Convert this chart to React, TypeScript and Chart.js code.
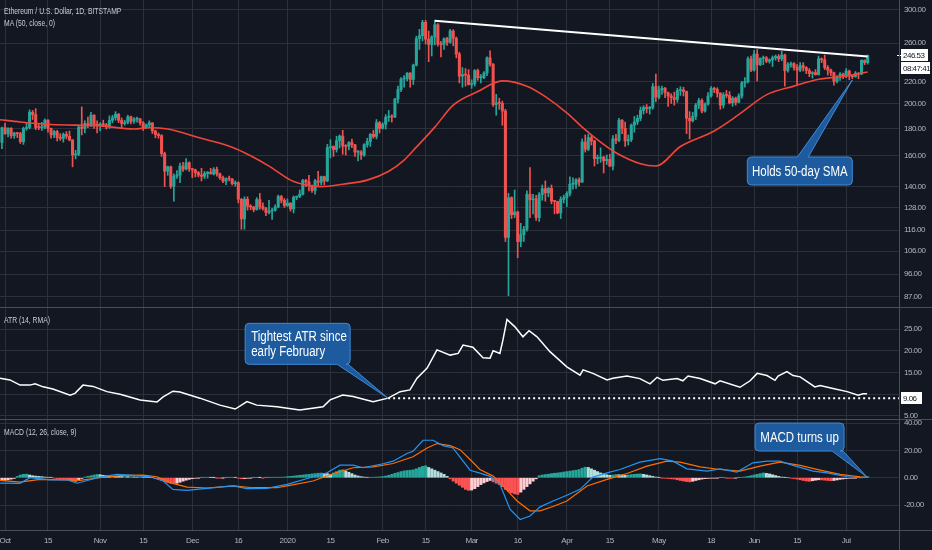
import React, { useEffect, useRef } from 'react';
import { Chart, registerables } from 'chart.js';

Chart.register(...registerables);

// ---------------- DATA ----------------
// Daily ETH/USD candles [open, high, low, close]; first row is 30 Sep 2019 (day -1; day 0 = 1 Oct 2019)
const candlesSep2019 = [[169.5, 181, 165, 180.5]];
const candlesOct2019 = [
  [180.5, 184, 175.5, 175.8], [175.8, 180.4, 173.5, 180.2], [180.2, 180.5, 172.5, 174.5], [174.5, 177, 172.5, 176.4],
  [176.4, 177, 173, 176], [176, 177, 168.7, 170], [170, 181, 168, 179.8], [179.8, 184, 178.5, 180.7],
  [180.7, 195, 179.5, 193], [193, 194.5, 187, 191], [191, 196, 179, 180.7], [180.7, 183, 179, 180.6],
  [180.6, 184.8, 178.5, 180.9], [180.9, 187.5, 179.8, 186.5], [186.5, 187, 177, 180], [180, 180.3, 172.5, 175],
  [175, 178.5, 173, 177.5], [177.5, 178.5, 170.5, 173], [173, 176, 171, 172.4], [172.4, 176.5, 169.6, 175.5],
  [175.5, 177.5, 172, 174], [174, 178, 170.5, 171.3], [171.3, 171.5, 152.5, 160.5], [160.5, 163.8, 157.8, 161],
  [161, 182, 160, 181], [181, 197.5, 175, 180], [180, 186, 176.5, 183.8], [183.8, 189, 180.5, 182.5],
  [182.5, 193, 181.3, 190.5], [190.5, 191, 180, 183], [183, 186, 176.5, 182.5],
];
const candlesNov2019 = [
  [182.5, 184.5, 178, 183.5], [183.5, 186.5, 181.8, 182.8], [182.8, 184, 179.5, 181.3], [181.3, 190, 180, 186.4],
  [186.4, 190.5, 184.5, 188.5], [188.5, 193.5, 186.5, 191.3], [191.3, 192, 184.5, 186.4], [186.4, 188.3, 180, 183.8],
  [183.8, 186.5, 182.5, 184.8], [184.8, 190.5, 183.5, 189.3], [189.3, 189.8, 183.5, 185.6], [185.6, 188.5, 184, 187.3],
  [187.3, 189, 184.8, 187.5], [187.5, 188, 182.5, 184.5], [184.5, 185.3, 178.5, 180.5], [180.5, 183.5, 180, 182.7],
  [182.7, 186, 181.3, 184.3], [184.3, 184.5, 176, 178], [178, 178.5, 172.8, 175.3], [175.3, 176.5, 172.5, 174.5],
  [174.5, 175.2, 159.5, 161.5], [161.5, 162.5, 140, 149.7], [149.7, 153, 147, 152.5], [152.5, 153, 139, 140.2],
  [140.2, 148, 131.5, 146.5], [146.5, 150, 145, 147.2], [147.2, 155, 142.5, 153], [153, 155.5, 149.5, 151],
  [151, 158, 150.5, 155.2], [155.2, 155.8, 149.5, 151.3],
];
const candlesDec2019 = [
  [151.3, 151.5, 145.5, 150.5], [150.5, 151, 146, 148.7], [148.7, 149.5, 146, 147.2], [147.2, 151.5, 143.5, 146.4],
  [146.4, 149.5, 145, 148.2], [148.2, 149.5, 145.2, 149], [149, 151.5, 148, 147.8], [147.8, 152, 147.2, 150.8],
  [150.8, 152.3, 146.5, 148], [148, 148.5, 144.5, 145.5], [145.5, 146.5, 142.5, 143.4], [143.4, 145.5, 141.2, 144.8],
  [144.8, 146.6, 143.5, 144.7], [144.7, 145, 141, 141.8], [141.8, 143.5, 140.3, 142.4], [142.4, 143, 130.5, 132.6],
  [132.6, 133, 116.5, 121.8], [121.8, 134, 116.5, 132.6], [132.6, 134, 126.5, 128.7], [128.7, 129.5, 126.7, 128.3],
  [128.3, 128.6, 125.6, 126.8], [126.8, 133.5, 126.5, 132.4], [132.4, 136, 127, 128.5], [128.5, 130.5, 126.5, 127.4],
  [127.4, 128, 123.5, 125.2], [125.2, 132, 124.5, 126], [126, 127.5, 121.5, 126.4], [126.4, 129.5, 126, 128.2],
  [128.2, 135, 127.8, 134.2], [134.2, 134.8, 130.5, 132], [132, 133, 128, 129],
];
const candlesJan2020 = [
  [129, 132.8, 128.5, 130.4], [130.4, 130.6, 126, 127.2], [127.2, 134.5, 125, 133.7], [133.7, 134.5, 132.3, 134.2],
  [134.2, 138, 133.5, 135.5], [135.5, 144.5, 135, 143.8], [143.8, 144.5, 140, 142.9], [142.9, 147, 137.5, 140.8],
  [140.8, 141, 136.5, 137.7], [137.7, 144.5, 135.5, 143.6], [143.6, 149.5, 140.5, 142.6], [142.6, 146.5, 141, 146.2],
  [146.2, 146.5, 141, 143.5], [143.5, 168, 143, 165.7], [165.7, 171.5, 158.5, 166.4], [166.4, 167, 159.5, 164.3],
  [164.3, 174, 162.5, 170.8], [170.8, 175, 165.5, 174.1], [174.1, 178.5, 161, 166.8], [166.8, 167.8, 160.5, 166.6],
  [166.6, 170, 164, 169.3], [169.3, 171.8, 165.7, 167.7], [167.7, 168, 159.5, 162.5], [162.5, 163.5, 156.5, 162.6],
  [162.6, 163.5, 157.5, 160.5], [160.5, 168.5, 159.5, 167.8], [167.8, 172.5, 166, 170.2], [170.2, 176, 166.5, 175.5],
  [175.5, 178.5, 172.5, 173.8], [173.8, 187, 172, 184.5], [184.5, 185.5, 176.5, 180],
];
const candlesFeb2020 = [
  [180, 184.5, 179.5, 183.2], [183.2, 191, 179.5, 188.8], [188.8, 194.5, 185.5, 189.3], [189.3, 191, 185, 189],
  [189, 205, 188.5, 204.3], [204.3, 216, 201, 212.8], [212.8, 224, 211, 222.7], [222.7, 226, 215, 223.2],
  [223.2, 229, 221, 228.5], [228.5, 229, 215, 222.3], [222.3, 237.5, 217.5, 236.5], [236.5, 268, 235.5, 265.2],
  [265.2, 276, 253, 268.5], [268.5, 287, 262.5, 284.5], [284.5, 287, 259, 264.5], [264.5, 274, 240, 258.5],
  [258.5, 268.5, 246, 267], [267, 287, 258, 281.5], [281.5, 283, 256.5, 259], [259, 262, 245, 258.5],
  [258.5, 266, 253, 265], [265, 266.5, 257.5, 261], [261, 276, 260, 274], [274, 275.5, 257, 265.5],
  [265.5, 267, 244, 248], [248, 250, 219, 225.5], [225.5, 234, 215, 227], [227, 233, 216, 226.5],
  [226.5, 232, 217, 217.5],
];
const candlesMar2020 = [
  [217.5, 222, 214, 218.5], [218.5, 232, 216, 231], [231, 232.5, 221.5, 224], [224, 227, 219, 224],
  [224, 230, 223, 228.5], [228.5, 245, 226, 244], [244, 251.5, 235.5, 237.5], [237.5, 238, 198, 199.5],
  [199.5, 208.5, 190.5, 201], [201, 205, 195.5, 200.5], [200.5, 202.5, 182.5, 194], [194, 195.5, 110.5, 112.5],
  [112.5, 136, 87.5, 133.5], [133.5, 134, 122, 124], [124, 138, 122.5, 125.5], [125.5, 126, 103, 110.5],
  [110.5, 119.5, 108, 113.8], [113.8, 118, 110.5, 116.5], [116.5, 137.5, 115.5, 135.5], [135.5, 152, 122.5, 132.3],
  [132.3, 135.5, 124.5, 132.8], [132.8, 134.8, 121, 122.5], [122.5, 136.5, 120.5, 135.3], [135.3, 141, 132, 138.8],
  [138.8, 143.5, 131.5, 136.3], [136.3, 139.5, 134, 139], [139, 141, 130, 131.5], [131.5, 132, 124.5, 131.3],
  [131.3, 131.5, 124.5, 125], [125, 134, 122, 132.5], [132.5, 135, 130.5, 133.5],
];
const candlesApr2020 = [
  [133.5, 137, 128.5, 136], [136, 146, 134.5, 141.5], [141.5, 145.5, 138.5, 141.5], [141.5, 145, 139, 144.2],
  [144.2, 145.5, 140.5, 142.8], [142.8, 172, 142.5, 169.8], [169.8, 175, 162.5, 164.5], [164.5, 175.5, 163.5, 173],
  [173, 174.5, 167.5, 170.5], [170.5, 171, 153, 158], [158, 160.5, 154.5, 158.3], [158.3, 165.5, 155.5, 159],
  [159, 159.5, 148.5, 156.5], [156.5, 160.5, 154, 157.5], [157.5, 161, 152.5, 153], [153, 174.5, 150.5, 172],
  [172, 175.5, 168.5, 171], [171, 188, 170, 186.5], [186.5, 187, 176, 180], [180, 185, 166.5, 170.5],
  [170.5, 175, 167.5, 171.5], [171.5, 183.5, 170, 182.5], [182.5, 189.5, 177, 185], [185, 190.5, 183, 188],
  [188, 197.5, 186, 194.5], [194.5, 198.5, 191.5, 197], [197, 199.5, 192.5, 196], [196, 198, 191.5, 197],
  [197, 218.5, 195.5, 215.5], [215.5, 227.5, 202, 206],
];
const candlesMay2020 = [
  [206, 216, 204.5, 212.5], [212.5, 216, 208.5, 214], [214, 215, 205.5, 210], [210, 210.5, 198, 207],
  [207, 209, 200.5, 205.5], [205.5, 210.5, 199, 204], [204, 214, 201.5, 212], [212, 215.5, 207.5, 212.5],
  [212.5, 215, 207, 211], [211, 211.5, 176, 188], [188, 193.5, 172, 186], [186, 193, 185, 189.5],
  [189.5, 200.5, 187, 199], [199, 205, 196, 203], [203, 204.5, 192.5, 194], [194, 201, 193, 200],
  [200, 210, 199, 207], [207, 215.5, 206, 214], [214, 215, 210, 213], [213, 214.5, 206, 209.5],
  [209.5, 210, 195.5, 199], [199, 210, 196.5, 208], [208, 212, 205.5, 207.5], [207.5, 211, 200, 201],
  [201, 206.5, 198, 205], [205, 206, 199, 201.5], [201.5, 209, 201, 207], [207, 220.5, 205, 219],
  [219, 224, 215, 220], [220, 245, 219, 243], [243, 246, 230, 231.5],
];
const candlesJun2020 = [
  [231.5, 252, 230.5, 248], [248, 253, 221, 237], [237, 244, 236, 243.5], [243.5, 246, 237, 244],
  [244, 245.5, 239, 240.5], [240.5, 243, 238.5, 242], [242, 246, 235, 244], [244, 247, 241.5, 245.5],
  [245.5, 247.5, 240, 243], [243, 251, 241, 247], [247, 248, 216, 231], [231, 239, 229.5, 237],
  [237, 239.5, 234.5, 238], [238, 239, 231.5, 234], [234, 237, 217, 231.5], [231.5, 239, 230, 236],
  [236, 239, 230.5, 234], [234, 235, 228, 231], [231, 233, 225, 228], [228, 230, 223.5, 229],
  [229, 232, 226.5, 227], [227, 246, 226.5, 243], [243, 244, 239, 242], [242, 247, 232, 234],
  [234, 236, 226.5, 231.5], [231.5, 232.5, 226, 229], [229, 229.5, 217, 220.5], [220.5, 226, 219, 224.5],
  [224.5, 229, 221.5, 227.5], [227.5, 228.5, 223, 225.5],
];
const candlesJul2020 = [
  [225.5, 233, 224, 230.5], [230.5, 231.5, 222, 226], [226, 227, 223, 225], [225, 230, 224.5, 228.5],
  [228.5, 229, 223, 227.5], [227.5, 242, 227, 241.5], [241.5, 242, 237, 239], [239, 247, 237.5, 246.53],
];

// 50-day SMA (day index, value)
const maDays = [-2, 5, 15, 31, 42, 47, 53, 63, 74, 80, 86, 93, 98, 103, 110, 118, 125, 130, 134, 140, 146, 154, 162, 170, 176, 183, 188, 194, 199, 207, 212, 220, 231, 239, 248, 257, 265, 274, 281];
const maValues = [187, 185, 183, 182, 179.5, 180.5, 179.5, 173, 166, 160, 153, 144, 141, 140, 141.5, 144, 149.6, 157, 166, 181, 199, 211, 221, 216, 206.5, 192.5, 181, 169.6, 162, 154.5, 153, 166.5, 178, 191, 208, 216, 222.5, 225.6, 229.5];

// Resistance trendline (day, price)
const trendDays = [140, 281];
const trendValues = [286.5, 245.5];

// ATR (14, RMA)
const atrDays = [-1.6, 1.6, 4.9, 8.1, 9.8, 12.4, 15.6, 21.2, 22.8, 25.4, 28.7, 33.2, 37.5, 44, 49.5, 51.5, 54.7, 57, 63.5, 70, 75, 78.8, 82, 88.6, 96, 103.6, 105.9, 110, 113.4, 119.9, 124.8, 128.7, 131.9, 134.2, 137.5, 140.7, 145, 147.6, 149.2, 152.4, 155.7, 158, 159, 161.2, 162.2, 163.5, 166.1, 168.7, 170.7, 173.3, 177.5, 183, 187.3, 188.3, 191.5, 196.1, 198, 202.6, 206.8, 210.1, 212.4, 214.3, 218.9, 220.8, 222.5, 226.4, 231.3, 232.9, 239.4, 242.7, 245, 248.2, 250.8, 251.8, 254.7, 256.7, 259, 263.8, 265.5, 269.7, 274.3, 277.9, 279.5, 280.8];
const atrValues = [13.7, 13.3, 12.1, 12.1, 12.4, 11.7, 11.2, 9.8, 10.2, 12.1, 11.8, 10.6, 10.0, 8.7, 8.2, 9.4, 10.7, 10.5, 9.1, 7.5, 6.6, 8.3, 7.5, 7.1, 6.4, 7.1, 8.7, 9.8, 9.5, 8.3, 9.1, 10.6, 11, 13.7, 16, 20.2, 19, 19.4, 21.3, 20.8, 18.4, 18.3, 20, 19.4, 22.5, 27.2, 25.5, 23.2, 24.6, 23.2, 19.8, 16.3, 14.4, 15.6, 14.8, 13.3, 13.7, 14.2, 13.6, 12.4, 13.9, 13.2, 13.6, 13.1, 14.2, 13.6, 12.4, 13.1, 11.6, 13.1, 14.8, 14.3, 13.2, 14.2, 15.2, 14.3, 14.0, 11.7, 12, 11.3, 10.6, 9.8, 10.1, 10.1];
const atrLevelDays = [124.8, 292];
const atrLevel = 9.06;

// MACD (12, 26, close, 9)
const macdDays = [-1.6, 4.9, 8.1, 14.7, 20.2, 23.5, 27.7, 30.9, 36.5, 41.7, 47.2, 51.5, 54.7, 59.3, 65.8, 74.3, 78.8, 85.3, 91.9, 99.3, 104.9, 109.1, 113.4, 116.6, 123.1, 126.4, 130.9, 132.9, 136.2, 139.4, 142.7, 145.9, 148.2, 151.5, 154.7, 158, 161.2, 164.5, 167.8, 171, 174.3, 178.5, 183, 187.3, 191.5, 196.1, 200.3, 206.8, 213.4, 217.6, 222.1, 228.7, 232.9, 238.4, 243.6, 248.2, 252.4, 256.7, 263.2, 267.8, 274.3, 278.5, 281];
const macdValues = [-3.9, -4.1, 0, -1.5, -1.5, -4, -1.5, 0.5, 2.4, 1.7, 0.7, -2.4, -8.5, -9.2, -7.8, -6, -8, -7.8, -4.8, 0, 3.6, 9.2, 9.2, 7.3, 10.2, 12.1, 17.7, 19.4, 27.4, 27.4, 23.5, 21.8, 15, 5.5, 3.4, 1.0, -4.8, -23, -30.5, -28, -21.3, -17, -12.8, -8.5, 0.5, 3.6, 6, 11.4, 14, 12.1, 6.5, 4.8, 6.5, 4.1, 10.9, 12.1, 12.1, 9, 4.8, 3.6, 0.7, 0, 0.5];
const signalDays = [-1.6, 4.9, 11.4, 20.2, 24.4, 30.9, 38.4, 45, 49.5, 53.7, 59.3, 65.8, 74.3, 80.8, 88.6, 92.8, 100.3, 106.8, 113.4, 119.9, 126.4, 132.9, 137.5, 140.7, 145, 148.2, 151.5, 154.7, 159, 162.2, 166.8, 171, 174.3, 178.5, 183, 189.6, 196.1, 202.6, 209.1, 215.6, 219.9, 226.4, 232.9, 239.4, 245.9, 252.4, 259, 265.5, 272, 278.5, 281];
const signalValues = [-1.9, -3.2, -1.2, -1.5, -1.9, 0, 1.7, 1.9, 0.7, -3.6, -6.8, -7.5, -6, -7.3, -7.3, -5.6, -2.4, 2.9, 7.3, 8, 10.4, 15.3, 21.8, 25, 23.5, 20.5, 13.3, 6, 1.2, -6, -17, -24.2, -24.2, -21, -17, -6, -1.2, 3.1, 8.5, 12.1, 11.4, 8, 6, 4.8, 8.5, 11.4, 9, 5.6, 2.4, 0.7, 0.5];
// Histogram, one value per candle (first = 30 Sep 2019)
const macdHistogram = [
  -2, -2, -1.5, -1, -0.5, 1, 2, 2.5, 2.6, 2, 1.5, 1.2, 1, 0.8, 0.5, 0.3, 0.2,
  -0.3, -0.6, -1, -1.2, -1.5, -2, -2.5, -2.8, -1.5, -0.5, 0.5, 1, 1.5, 2, 2.4, 2.2, 1.8, 1.5, 1.2,
  1.2, 1.1, 1, 0.9, 0.9, 0.8, 0.8, 0.6, 0.5, 0.5, 0.4, 0.3, 0.2, 0.1,
  -0.5, -1, -1.8, -2.8, -3.5, -4, -4.2, -4, -3.3, -2.5, -1.8, -1.2, -0.7, -0.4, -0.2,
  0.2, 0.3, 0.3, 0.2, 0.1, -0.1, -0.2, -0.1, 0.1, 0.2, 0.3, 0.2, -0.3, -0.7, -0.6, -0.4, -0.2, 0.1, 0.2, 0.1, -0.1, 0.1, 0.2, 0.3, 0.3, 0.4, 0.4,
  0.5, 0.8, 1, 1.2, 1.5, 1.8, 2, 2.3, 2.5, 2.8, 3, 3.3, 3.4, 3.2, 3, 2.5, 3.5, 4.5, 5.5, 5.8, 5, 4,
  3, 2, 1.3, 0.8, 0.5, 0.3, 0.3, 0.4, 0.5, 0.6, 0.8, 1.2, 1.8, 2.5, 3.2, 3.8, 4.5, 5, 5.3, 5.5, 5.8, 6.5,
  7.5, 8.3, 8.7, 7.5, 6.5, 5.5, 4.5, 3.5, 2.5, 1, -0.8, -2.5, -4, -5.5, -7, -8.5, -9.2, -9,
  -8, -6.5, -5, -3.8, -2.8, -2, -3, -4, -5, -6.5, -8.5, -10, -11, -11.8, -12.2, -10.5, -8.5, -6.5, -4.5, -2.5, -0.8,
  1.5, 2, 2.3, 2.6, 3, 3.3, 3.5, 3.8, 4.2, 4.5, 4.8, 5.2, 5.5, 6, 7, 7.7, 7.5, 6.5, 5.5, 4.5, 3.5, 2.8, 2.2, 1.8,
  2, 2.3, 2.2, 2, 1.8, 2, 2.3, 2.5, 2.7, 2.8, 2.5, 2, 1.5, 1, 0.5,
  0.2, -0.2, -0.4, -0.6, -0.8, -1, -1.5, -2, -2.4, -2.8, -3, -2.6, -2, -1.5, -1, -0.7, -0.5, -0.3,
  -0.3, -0.2, 0.1, 0.2, -0.2, -0.3, -0.4, -0.2, 0.1, 0.3, 0.6, 1, 1.5, 2, 2.5, 3, 3.5, 3.2, 2.8, 2.2, 1.6, 1, 0.5,
  0.2, 0, -0.3, -0.6, -1, -1.5, -2, -2.4, -2.6, -2.2, -1.8, -1.5, -1.6, -1.8, -2, -2.2, -2, -1.6, -1.2,
  -0.9, -0.6, -0.4, -0.3, -0.2, 0.1, 0.3, 0.5, 0.8,
];

// Axis ticks
const timeTickDays = [0, 14, 31, 45, 61, 76, 92, 106, 123, 137, 152, 167, 183, 197, 213, 230, 244, 258, 274];
const timeTickLabels = ['Oct', '15', 'Nov', '15', 'Dec', '16', '2020', '15', 'Feb', '15', 'Mar', '16', 'Apr', '15', 'May', '18', 'Jun', '15', 'Jul'];
const priceTicks = [87, 96, 106, 116, 128, 140, 160, 180, 200, 220, 260, 300];
const atrTicks = [5, 10, 15, 20, 25];
const macdTicks = [-20, 0, 20, 40];

// Texts
const titleText = 'Ethereum / U.S. Dollar, 1D, BITSTAMP';
const maLegend = 'MA (50, close, 0)';
const atrLegend = 'ATR (14, RMA)';
const macdLegend = 'MACD (12, 26, close, 9)';
const countdownText = '08:47:41';

// ---------------- STYLE ----------------
const FONT = '"Liberation Sans", Arial, sans-serif';
const BG = '#131722';
const GRID = '#2c303b';
const SEP = '#4a4e59';
const TEXT = '#b2b5be';
const UP = '#26a69a';
const DOWN = '#ef5350';
const MA_COLOR = '#f0453a';
const X_MIN = -1.63;
const X_MAX = 291.2;
const AXIS_W = 33;
const TICK_SPACING = '-0.5px';

const candles = [
  ...candlesSep2019, ...candlesOct2019, ...candlesNov2019, ...candlesDec2019, ...candlesJan2020,
  ...candlesFeb2020, ...candlesMar2020, ...candlesApr2020, ...candlesMay2020, ...candlesJun2020, ...candlesJul2020,
];

const pts = (xs: number[], ys: number[]) => xs.map((x, i) => ({ x, y: ys[i] }));

function xScale(showLabels: boolean): any {
  return {
    type: 'linear',
    min: X_MIN,
    max: X_MAX,
    offset: false,
    grid: { color: GRID, drawTicks: false, offset: false, lineWidth: 1 },
    border: { display: false },
    ticks: {
      display: showLabels,
      autoSkip: false,
      maxRotation: 0,
      padding: 6,
      color: TEXT,
      font: { family: FONT, size: 8 },
      callback: (v: number) => {
        const i = timeTickDays.indexOf(v);
        return i >= 0 ? timeTickLabels[i] : '';
      },
    },
    afterBuildTicks: (s: any) => { s.ticks = timeTickDays.map((v) => ({ value: v })); },
    afterFit: (s: any) => { s.height = showLabels ? 20 : 0; s.paddingLeft = 0; s.paddingRight = 0; },
  };
}

function yScale(type: string, min: number, max: number, ticks: number[], hide: number[] = []): any {
  return {
    type,
    position: 'right',
    min,
    max,
    grid: { color: GRID, drawTicks: false, lineWidth: 1 },
    border: { display: false },
    ticks: {
      autoSkip: false,
      padding: 5,
      color: TEXT,
      font: { family: FONT, size: 8 },
      callback: (v: number) => (hide.includes(Number(v)) ? '' : Number(v).toFixed(2)),
    },
    afterBuildTicks: (s: any) => { s.ticks = ticks.map((v) => ({ value: v })); },
    afterFit: (s: any) => { s.width = AXIS_W; s.paddingTop = 0; s.paddingBottom = 0; },
  };
}

const baseOptions = {
  animation: false,
  responsive: false,
  maintainAspectRatio: false,
  events: [],
  layout: { padding: 0 },
  plugins: { legend: { display: false }, tooltip: { enabled: false } },
};

// tighter letter spacing for the axis labels
const spacingPlugin = {
  id: 'spacing',
  beforeDraw(chart: any) { (chart.ctx as any).letterSpacing = TICK_SPACING; },
};

type Callout = {
  day: number; value: number; lines: string[];
  dx: number; dy: number; w: number; h: number; edge: 'top' | 'bottom'; b1: number; b2: number; align: 'center' | 'left';
};

function drawCallout(ctx: CanvasRenderingContext2D, tx: number, ty: number, c: Callout) {
  const bx = tx + c.dx;
  const by = ty + c.dy;
  const r = 4;
  ctx.save();
  ctx.beginPath();
  ctx.moveTo(bx + r, by);
  if (c.edge === 'top') { ctx.lineTo(tx + c.b1, by); ctx.lineTo(tx, ty); ctx.lineTo(tx + c.b2, by); }
  ctx.lineTo(bx + c.w - r, by);
  ctx.arcTo(bx + c.w, by, bx + c.w, by + r, r);
  ctx.lineTo(bx + c.w, by + c.h - r);
  ctx.arcTo(bx + c.w, by + c.h, bx + c.w - r, by + c.h, r);
  if (c.edge === 'bottom') { ctx.lineTo(tx + c.b2, by + c.h); ctx.lineTo(tx, ty); ctx.lineTo(tx + c.b1, by + c.h); }
  ctx.lineTo(bx + r, by + c.h);
  ctx.arcTo(bx, by + c.h, bx, by + c.h - r, r);
  ctx.lineTo(bx, by + r);
  ctx.arcTo(bx, by, bx + r, by, r);
  ctx.closePath();
  ctx.fillStyle = '#1d5b9e';
  ctx.fill();
  ctx.strokeStyle = '#3f8ad6';
  ctx.lineWidth = 1;
  ctx.stroke();
  (ctx as any).letterSpacing = '0px';
  ctx.fillStyle = '#ffffff';
  ctx.font = `14px ${FONT}`;
  ctx.textBaseline = 'middle';
  const lh = 15;
  const sx = 0.82;
  const top = by + c.h / 2 - ((c.lines.length - 1) * lh) / 2;
  c.lines.forEach((t, i) => {
    const w = ctx.measureText(t).width * sx;
    const x = c.align === 'center' ? bx + c.w / 2 - w / 2 : bx + 6;
    ctx.save();
    ctx.translate(x, top + i * lh + 1);
    ctx.scale(sx, 1);
    ctx.textAlign = 'left';
    ctx.fillText(t, 0, 0);
    ctx.restore();
  });
  ctx.restore();
}

function drawTag(ctx: CanvasRenderingContext2D, x: number, y: number, w: number, text: string) {
  ctx.save();
  ctx.fillStyle = '#ffffff';
  ctx.fillRect(x, Math.round(y - 6), w, 12);
  ctx.fillStyle = '#131722';
  (ctx as any).letterSpacing = TICK_SPACING;
  ctx.font = `8px ${FONT}`;
  ctx.textBaseline = 'middle';
  ctx.textAlign = 'left';
  ctx.fillText(text, x + 2, Math.round(y) + 0.5);
  ctx.restore();
}

const callouts: Record<string, Callout> = {
  main: { day: 276, value: 221.8, lines: ['Holds 50-day SMA'], dx: -105, dy: 77, w: 105, h: 28, edge: 'top', b1: -55, b2: -44, align: 'center' },
  atr: { day: 124.8, value: atrLevel, lines: ['Tightest ATR since', 'early February'], dx: -143, dy: -75, w: 105, h: 41, edge: 'bottom', b1: -51, b2: -40, align: 'left' },
  macd: { day: 280.8, value: 0.5, lines: ['MACD turns up'], dx: -112, dy: -54, w: 89, h: 28, edge: 'bottom', b1: -35, b2: -24, align: 'center' },
};

function calloutPlugin(c: Callout, extra?: (chart: any) => void) {
  return {
    id: 'callout',
    afterDraw(chart: any) {
      const ctx = chart.ctx;
      if (extra) extra(chart);
      drawCallout(ctx, chart.scales.x.getPixelForValue(c.day), chart.scales.y.getPixelForValue(c.value), c);
    },
  };
}

function mainConfig(): any {
  const colors = candles.map((c) => (c[3] >= c[0] ? UP : DOWN));
  const last = candles[candles.length - 1][3];
  return {
    type: 'bar',
    data: {
      datasets: [
        { type: 'line', data: pts(trendDays, trendValues), borderColor: '#ffffff', borderWidth: 2, pointRadius: 0, order: 0 },
        { type: 'line', data: pts(maDays, maValues), borderColor: MA_COLOR, borderWidth: 1.6, pointRadius: 0, cubicInterpolationMode: 'monotone', order: 1 },
        {
          type: 'bar', order: 2, grouped: false, barThickness: 2.4, minBarLength: 1,
          data: candles.map((c, i) => ({ x: i - 1, y: [Math.min(c[0], c[3]), Math.max(c[0], c[3])] })),
          backgroundColor: colors,
        },
        {
          type: 'bar', order: 3, grouped: false, barThickness: 1,
          data: candles.map((c, i) => ({ x: i - 1, y: [c[2], c[1]] })),
          backgroundColor: colors,
        },
      ],
    },
    options: {
      ...baseOptions,
      scales: { x: xScale(false), y: yScale('logarithmic', 83.3, 313.2, priceTicks) },
    },
    plugins: [spacingPlugin, calloutPlugin(callouts.main, (chart: any) => {
      const ctx = chart.ctx;
      const y = chart.scales.y.getPixelForValue(last);
      const x0 = chart.chartArea.right;
      ctx.save();
      ctx.strokeStyle = '#ffffff';
      ctx.beginPath();
      ctx.moveTo(x0 - 2, Math.round(y) + 0.5);
      ctx.lineTo(x0 + 2, Math.round(y) + 0.5);
      ctx.stroke();
      ctx.restore();
      drawTag(ctx, x0 + 2, y, 27, last.toFixed(2));
      drawTag(ctx, x0 + 2, y + 13, 29, countdownText);
    })],
  };
}

function atrConfig(): any {
  return {
    type: 'line',
    data: {
      datasets: [
        { data: pts(atrDays, atrValues), borderColor: '#ffffff', borderWidth: 1.5, pointRadius: 0, order: 0 },
        { data: atrLevelDays.map((d) => ({ x: d, y: atrLevel })), borderColor: '#ffffff', borderWidth: 2, borderDash: [2, 3], pointRadius: 0, order: 1 },
      ],
    },
    options: {
      ...baseOptions,
      scales: { x: xScale(false), y: yScale('linear', 4.31, 29.83, atrTicks, [10]) },
    },
    plugins: [spacingPlugin, calloutPlugin(callouts.atr, (chart: any) => {
      drawTag(chart.ctx, chart.chartArea.right + 2, chart.scales.y.getPixelForValue(atrLevel), 21, atrLevel.toFixed(2));
    })],
  };
}

function macdConfig(): any {
  const histColors = macdHistogram.map((v, i) => {
    const p = i > 0 ? macdHistogram[i - 1] : v;
    if (v >= 0) return v >= p ? '#26a69a' : '#b2dfdb';
    return v < p ? '#ff5252' : '#ffcdd2';
  });
  return {
    type: 'bar',
    data: {
      datasets: [
        { type: 'line', data: pts(macdDays, macdValues), borderColor: '#2196f3', borderWidth: 1.2, pointRadius: 0, order: 0 },
        { type: 'line', data: pts(signalDays, signalValues), borderColor: '#ff6d00', borderWidth: 1.2, pointRadius: 0, order: 1 },
        {
          type: 'bar', order: 2, grouped: false, barThickness: 2.4,
          data: macdHistogram.map((v, i) => ({ x: i - 1, y: v })),
          backgroundColor: histColors,
        },
      ],
    },
    options: {
      ...baseOptions,
      scales: { x: xScale(true), y: yScale('linear', -38.2, 42.2, macdTicks) },
    },
    plugins: [spacingPlugin, calloutPlugin(callouts.macd)],
  };
}

const legendStyle: React.CSSProperties = {
  position: 'absolute',
  left: 4,
  fontFamily: FONT,
  fontSize: 8.5,
  color: '#c9ccd4',
  lineHeight: '12px',
  whiteSpace: 'nowrap',
  transform: 'scaleX(0.8)',
  transformOrigin: 'left top',
};

export default function App() {
  const mainRef = useRef<HTMLCanvasElement>(null);
  const atrRef = useRef<HTMLCanvasElement>(null);
  const macdRef = useRef<HTMLCanvasElement>(null);

  useEffect(() => {
    const charts = [
      new Chart(mainRef.current as HTMLCanvasElement, mainConfig()),
      new Chart(atrRef.current as HTMLCanvasElement, atrConfig()),
      new Chart(macdRef.current as HTMLCanvasElement, macdConfig()),
    ];
    return () => charts.forEach((c) => c.destroy());
  }, []);

  return (
    <div style={{ position: 'fixed', left: 0, top: 0, width: 932, height: 550, background: BG, overflow: 'hidden' }}>
      <canvas ref={mainRef} width={932} height={307} style={{ position: 'absolute', left: 0, top: 0 }} />
      <canvas ref={atrRef} width={932} height={111} style={{ position: 'absolute', left: 0, top: 308 }} />
      <canvas ref={macdRef} width={932} height={130} style={{ position: 'absolute', left: 0, top: 420 }} />
      <div style={{ position: 'absolute', left: 0, top: 307, width: 932, height: 1, background: SEP }} />
      <div style={{ position: 'absolute', left: 0, top: 419, width: 932, height: 1, background: SEP }} />
      <div style={{ position: 'absolute', left: 0, top: 530, width: 932, height: 1, background: SEP }} />
      <div style={{ position: 'absolute', left: 899, top: 0, width: 1, height: 550, background: SEP }} />
      <div style={{ ...legendStyle, top: 5 }}>{titleText}</div>
      <div style={{ ...legendStyle, top: 17 }}>{maLegend}</div>
      <div style={{ ...legendStyle, top: 314 }}>{atrLegend}</div>
      <div style={{ ...legendStyle, top: 426 }}>{macdLegend}</div>
    </div>
  );
}
